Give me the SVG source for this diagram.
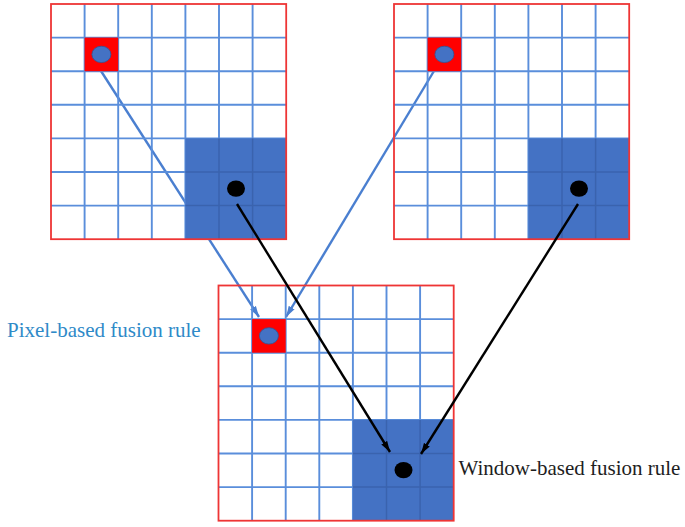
<svg xmlns="http://www.w3.org/2000/svg" width="685" height="527" viewBox="0 0 685 527">
  <style>
    .grid { fill: none; stroke: #5A8EDB; stroke-width: 1.9; }
    .border { fill: none; stroke: #EE3535; stroke-width: 1.8; }
    .window { fill: #4472C4; }
    .wgrid { fill: none; stroke: #3A63AE; stroke-width: 1.5; }
    .pix { fill: #FF0000; }
    .pdot { fill: #4472C4; stroke: #2F5597; stroke-width: 0.8; }
    .bdot { fill: #000000; }
    .blue-arrow { fill: none; stroke: #4A7FD0; stroke-width: 2.4; }
    .black-arrow { fill: none; stroke: #000000; stroke-width: 2.4; }
    .lbl { font-family: "Liberation Serif", "Times New Roman", serif; font-size: 21px; }
  </style>
  <defs>
    <marker id="ahBlue" markerUnits="userSpaceOnUse" markerWidth="12" markerHeight="8" refX="11" refY="4" orient="auto">
      <path d="M0,0.6 L11,4 L0,7.4 z" fill="#4A7FD0"/>
    </marker>
    <marker id="ahBlack" markerUnits="userSpaceOnUse" markerWidth="12" markerHeight="8" refX="11" refY="4" orient="auto">
      <path d="M0,0.6 L11,4 L0,7.4 z" fill="#000000"/>
    </marker>
    <g id="gridBase">
      <path class="grid" d="M33.6,0V235.2M67.2,0V235.2M100.8,0V235.2M134.4,0V235.2M168,0V235.2M201.6,0V235.2M0,33.6H235.2M0,67.2H235.2M0,100.8H235.2M0,134.4H235.2M0,168H235.2M0,201.6H235.2"/>
      <rect class="window" x="134.4" y="134.4" width="100.8" height="100.8"/>
      <path class="wgrid" d="M168,134.4V235.2M201.6,134.4V235.2M134.4,168H235.2M134.4,201.6H235.2"/>
      <rect class="pix" x="33.6" y="33.6" width="33.6" height="33.6"/>
      <ellipse class="pdot" cx="50.4" cy="50.4" rx="9.5" ry="8.2"/>
      <ellipse class="bdot" cx="185" cy="184.6" rx="9" ry="8.2"/>
      <rect class="border" x="0" y="0" width="235.2" height="235.2"/>
    </g>
  </defs>
  <rect width="685" height="527" fill="#FFFFFF"/>

  <g id="connectors-pixel">
    <line class="blue-arrow" x1="101" y1="71" x2="259" y2="317" marker-end="url(#ahBlue)"/>
    <line class="blue-arrow" x1="434" y1="71" x2="286" y2="317" marker-end="url(#ahBlue)"/>
  </g>

  <g id="source-image-a">
    <use href="#gridBase" transform="translate(51,4)"/>
  </g>
  <g id="source-image-b">
    <use href="#gridBase" transform="translate(394,4)"/>
  </g>
  <g id="fused-image">
    <use href="#gridBase" transform="translate(218.5,285.5)"/>
  </g>

  <g id="connectors-window">
    <line class="black-arrow" x1="237" y1="204" x2="390" y2="452" marker-end="url(#ahBlack)"/>
    <line class="black-arrow" x1="578" y1="204" x2="421" y2="454" marker-end="url(#ahBlack)"/>
  </g>

  <g id="label-pixel">
    <text class="lbl" x="7" y="336.5" fill="#2F8AC8">Pixel-based fusion rule</text>
  </g>
  <g id="label-window">
    <text class="lbl" x="458.5" y="475" fill="#1E1E1E">Window-based fusion rule</text>
  </g>
</svg>
